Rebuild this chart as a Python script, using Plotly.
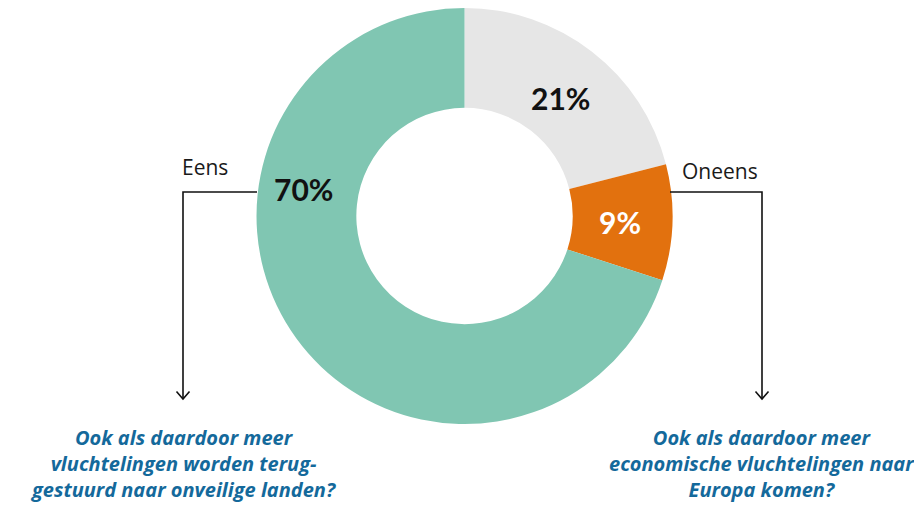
import plotly.graph_objects as go

categories = ["Neutraal", "Oneens", "Eens"]
values = [21, 9, 70]
colors = ["#E6E6E6", "#E2710E", "#80C6B2"]
label_colors = ["#111111", "#FFFFFF", "#111111"]
label_pos = [(560, 98), (620, 222), (303, 189)]

side_labels = ["Eens", "Oneens"]
side_label_pos = [(205, 167), (720, 171)]
questions = [
    "Ook als daardoor meer<br>vluchtelingen worden terug-<br>gestuurd naar onveilige landen?",
    "Ook als daardoor meer<br>economische vluchtelingen naar<br>Europa komen?",
]
question_x = [183, 762]

# page is offset by the default 8px body margin; work in page pixels
W, H, OFF = 922, 507, 8
FW, FH = W - OFF, H - OFF
cx, cy, R = 464.5, 216, 208

fig = go.Figure()
fig.add_trace(go.Pie(
    labels=categories, values=values, sort=False, direction="clockwise", rotation=0,
    hole=0.52, marker=dict(colors=colors, line=dict(width=0)),
    textinfo="none", hoverinfo="label+percent", showlegend=False,
    domain=dict(x=[(cx - R - OFF) / FW, (cx + R - OFF) / FW],
                y=[max(0, (H - cy - R) / FH), min(1, (H - cy + R) / FH)]),
))

fig.add_trace(go.Scatter(x=[OFF, W], y=[OFF, H], mode="markers", marker=dict(opacity=0),
                         hoverinfo="skip", showlegend=False))

annotations = []
for v, c, (x, y) in zip(values, label_colors, label_pos):
    annotations.append(dict(x=x, y=y, xref="x", yref="y", text=f"<b>{v}%</b>", showarrow=False,
                            font=dict(family="Lato", size=30, color=c)))
for t, (x, y) in zip(side_labels, side_label_pos):
    annotations.append(dict(x=x, y=y, xref="x", yref="y", text=t, showarrow=False,
                            font=dict(family="Open Sans", size=21, color="#1a1a1a")))
for q, x in zip(questions, question_x):
    annotations.append(dict(x=x, y=463, xref="x", yref="y", text=f"<b><i>{q}</i></b>",
                            showarrow=False, align="center",
                            font=dict(family="Open Sans", size=20, color="#14699B")))

line = dict(color="#111111", width=1.6)
shapes = [
    dict(type="path", xref="x", yref="y", path="M 257 192 L 183 192 L 183 399", line=line),
    dict(type="path", xref="x", yref="y", path="M 176.5 391.5 L 183 399 L 189.5 391.5", line=line),
    dict(type="path", xref="x", yref="y", path="M 670 192 L 762 192 L 762 399", line=line),
    dict(type="path", xref="x", yref="y", path="M 755.5 391.5 L 762 399 L 768.5 391.5", line=line),
]

fig.update_layout(
    width=FW, height=FH, margin=dict(l=0, r=0, t=0, b=0),
    paper_bgcolor="white", plot_bgcolor="rgba(0,0,0,0)",
    xaxis=dict(range=[OFF, W], visible=False, fixedrange=True),
    yaxis=dict(range=[H, OFF], visible=False, fixedrange=True),
    annotations=annotations, shapes=shapes,
)
fig.write_html("out.html")
